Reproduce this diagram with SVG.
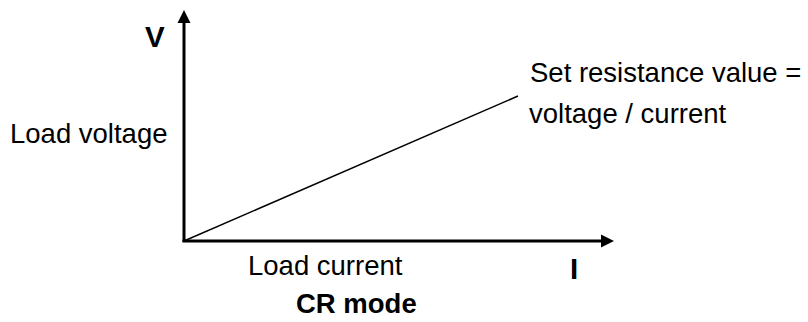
<svg xmlns="http://www.w3.org/2000/svg" width="808" height="322" viewBox="0 0 808 322">
<style>
text{font-family:"Liberation Sans",Arial,sans-serif;font-size:27.5px;fill:#000}
.b{font-weight:bold}
.ax{stroke:#000;stroke-width:3;fill:none}
</style>
<rect width="808" height="322" fill="#fff"/>
<g id="connectors">
<line class="ax" x1="184" y1="242" x2="184" y2="22"/>
<polygon points="184,10 177.5,23 190.5,23" fill="#000"/>
<line class="ax" x1="182.5" y1="241" x2="602" y2="241"/>
<polygon points="614,241 601,234.5 601,247.5" fill="#000"/>
<line x1="184" y1="241" x2="518" y2="96" stroke="#000" stroke-width="1.5"/>
</g>
<g id="label-v"><text class="b" x="145" y="47" style="font-size:29.5px">V</text></g>
<g id="label-load-voltage"><text x="10" y="143">Load voltage</text></g>
<g id="label-resistance"><text x="530" y="82">Set resistance value =</text><text x="529" y="123">voltage / current</text></g>
<g id="label-load-current"><text x="248" y="275">Load current</text></g>
<g id="label-i"><text class="b" x="570" y="279" style="font-size:29.5px">I</text></g>
<g id="label-mode"><text class="b" x="296" y="313">CR mode</text></g>
</svg>
